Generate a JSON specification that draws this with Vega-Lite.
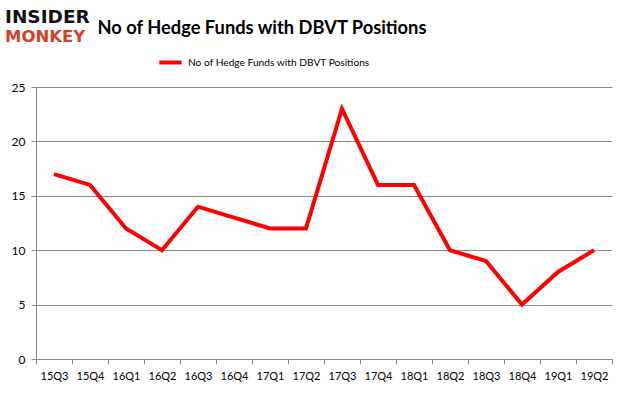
{
  "$schema": "https://vega.github.io/schema/vega-lite/v6.json",
  "autosize": {"type": "pad"},
  "padding": {"left": 5, "top": 8, "right": 14, "bottom": 12},
  "background": "white",
  "bounds": "flush",
  "spacing": 30,
  "config": {"view": {"stroke": null}, "font": "Lato"},
  "datasets": {
    "funds": [
      {"quarter": "15Q3", "funds": 17},
      {"quarter": "15Q4", "funds": 16},
      {"quarter": "16Q1", "funds": 12},
      {"quarter": "16Q2", "funds": 10},
      {"quarter": "16Q3", "funds": 14},
      {"quarter": "16Q4", "funds": 13},
      {"quarter": "17Q1", "funds": 12},
      {"quarter": "17Q2", "funds": 12},
      {"quarter": "17Q3", "funds": 23},
      {"quarter": "17Q4", "funds": 16},
      {"quarter": "18Q1", "funds": 16},
      {"quarter": "18Q2", "funds": 10},
      {"quarter": "18Q3", "funds": 9},
      {"quarter": "18Q4", "funds": 5},
      {"quarter": "19Q1", "funds": 8},
      {"quarter": "19Q2", "funds": 10}
    ],
    "blank": []
  },
  "hconcat": [
    {
      "width": 1,
      "height": 272,
      "data": {"name": "blank"},
      "mark": "point",
      "title": {
        "text": "INSIDER",
        "subtitle": "MONKEY",
        "anchor": "start",
        "frame": "group",
        "font": "DejaVu Sans",
        "fontSize": 18.5,
        "fontWeight": "bold",
        "color": "#111111",
        "subtitleFont": "DejaVu Sans",
        "subtitleFontSize": 16.5,
        "subtitleFontWeight": "bold",
        "subtitleColor": "#d3402a",
        "subtitlePadding": 2,
        "offset": 42
      }
    },
    {
      "width": 576,
      "height": 272,
      "data": {"name": "funds"},
      "title": {
        "text": "No of Hedge Funds with DBVT Positions",
        "font": "Lato",
        "fontSize": 18.3,
        "fontWeight": "bold",
        "color": "#000000",
        "anchor": "middle",
        "frame": "group",
        "dx": -62,
        "offset": 43
      },
      "mark": {"type": "line", "color": "#ff0000", "strokeWidth": 4},
      "encoding": {
        "x": {
          "field": "quarter",
          "type": "ordinal",
          "sort": null,
          "bandPosition": 0.5,
          "scale": {"type": "band", "paddingInner": 0, "paddingOuter": 0},
          "axis": {
            "title": null,
            "labelAngle": 0,
            "tickBand": "extent",
            "domainColor": "#888888",
            "tickColor": "#888888",
            "tickSize": 5,
            "labelFont": "Lato",
            "labelFontSize": 11,
            "labelColor": "#000000",
            "labelPadding": 6,
            "grid": false
          }
        },
        "y": {
          "field": "funds",
          "type": "quantitative",
          "scale": {"domain": [0, 25]},
          "axis": {
            "title": null,
            "values": [0, 5, 10, 15, 20, 25],
            "grid": true,
            "gridColor": "#8c8c8c",
            "domainColor": "#888888",
            "tickColor": "#888888",
            "tickSize": 5,
            "labelFont": "Lato",
            "labelFontSize": 12,
            "labelColor": "#000000",
            "labelPadding": 6
          }
        },
        "color": {
          "datum": "No of Hedge Funds with DBVT Positions",
          "type": "nominal",
          "scale": {"range": ["#ff0000"]},
          "legend": {
            "orient": "none",
            "legendX": 152,
            "legendY": -38,
            "title": null,
            "labelLimit": 0,
            "symbolType": "stroke",
            "symbolStrokeWidth": 4,
            "symbolSize": 500,
            "labelFont": "Lato",
            "labelFontSize": 10.2,
            "labelColor": "#000000"
          }
        }
      }
    }
  ]
}
